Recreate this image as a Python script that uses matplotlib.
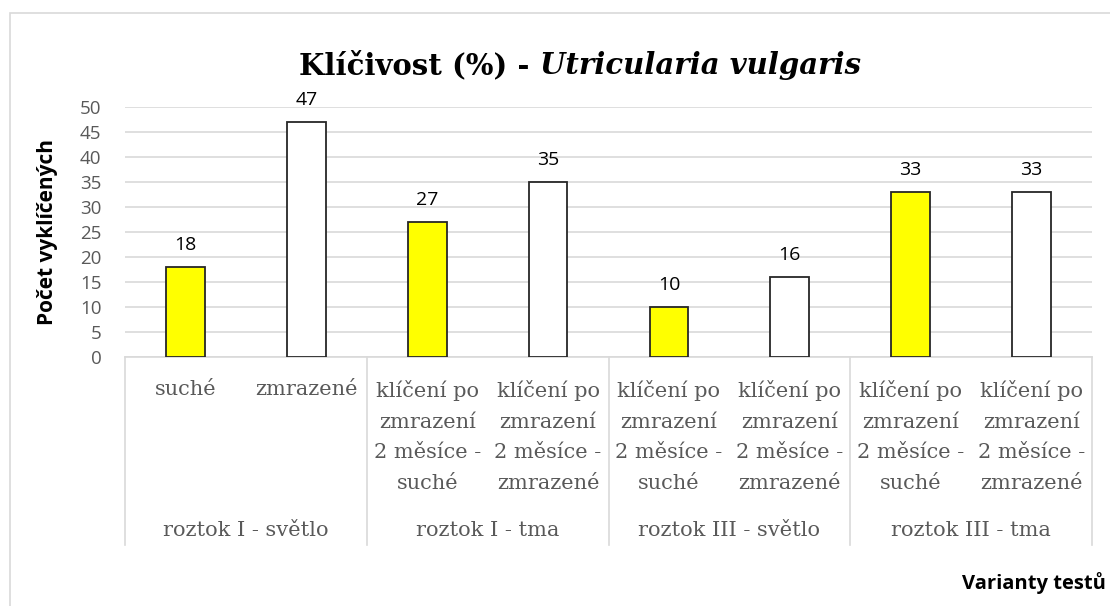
import matplotlib.pyplot as plt
from matplotlib.patches import Rectangle
import matplotlib.transforms as mtransforms


# data
groups = ['roztok I - světlo', 'roztok I - tma', 'roztok III - světlo', 'roztok III - tma']
categories = [
    'suché', 'zmrazené',
    'klíčení po\nzmrazení\n2 měsíce -\nsuché', 'klíčení po\nzmrazení\n2 měsíce -\nzmrazené',
    'klíčení po\nzmrazení\n2 měsíce -\nsuché', 'klíčení po\nzmrazení\n2 měsíce -\nzmrazené',
    'klíčení po\nzmrazení\n2 měsíce -\nsuché', 'klíčení po\nzmrazení\n2 měsíce -\nzmrazené',
]
values = [18, 47, 27, 35, 10, 16, 33, 33]
bar_colors = ['#ffff00', '#ffffff'] * 4

W, H = 1110, 606
fig = plt.figure(figsize=(W / 100, H / 100), dpi=100)

# outer chart frame
fig.patches.append(Rectangle((10 / W, -0.1), 1.2, (H - 13) / H + 0.1,
                             transform=fig.transFigure, fill=False,
                             edgecolor='#d9d9d9', lw=1.2))

x0, x1 = 125, 1092
y0, y1 = 357, 107
ax = fig.add_axes([x0 / W, (H - y0) / H, (x1 - x0) / W, (y0 - y1) / H])

x = list(range(len(values)))
ax.bar(x, values, width=0.32, color=bar_colors, edgecolor='#262626', lw=1.3, zorder=3)
for xi, v in zip(x, values):
    ax.text(xi, v + 2.7, str(v), ha='center', va='bottom', fontsize=14,
            family='Open Sans', color='black')

ax.set_xlim(-0.5, len(values) - 0.5)
ax.set_ylim(0, 50)
ax.set_yticks(range(0, 51, 5))
ax.set_xticks([])
ax.yaxis.grid(True, color='#d9d9d9', lw=1.2)
ax.set_axisbelow(True)
for s in ['top', 'right', 'left']:
    ax.spines[s].set_visible(False)
ax.spines['bottom'].set_color('#d9d9d9')
ax.spines['bottom'].set_linewidth(1.2)
ax.tick_params(axis='y', length=0, pad=17, labelsize=13.5, labelcolor='#595959')
for lbl in ax.get_yticklabels():
    lbl.set_family('Open Sans')

ax.set_ylabel('Počet vyklíčených', fontsize=15, fontweight='bold',
              family='Open Sans')
ax.yaxis.set_label_coords(-67 / (x1 - x0), 0.5)

# multi-level category axis
trans = mtransforms.blended_transform_factory(ax.transData, ax.transAxes)
px = 1 / (y0 - y1)
for xi, cat in zip(x, categories):
    ax.text(xi, -23 * px, cat, transform=trans, ha='center', va='top',
            fontsize=15, family='DejaVu Serif', color='#595959', linespacing=1.78)
for gi, g in enumerate(groups):
    ax.text(2 * gi + 0.5, -174 * px, g, transform=trans, ha='center', va='center',
            fontsize=15, family='DejaVu Serif', color='#595959')
for b in [-0.5, 1.5, 3.5, 5.5, 7.5]:
    ax.plot([b, b], [0, -188 * px], transform=trans, color='#d9d9d9', lw=1.2,
            clip_on=False)

# title: bold upright part + bold italic part
t1 = fig.text(0, 1 - 65 / H, 'Klíčivost (%) - ', fontsize=21, fontweight='bold',
              family='DejaVu Serif', va='center', ha='left')
t2 = fig.text(0, 1 - 65 / H, 'Utricularia vulgaris', fontsize=21, fontweight='bold',
              style='italic', family='DejaVu Serif', va='center', ha='left')
fig.canvas.draw()
r = fig.canvas.get_renderer()
w1 = t1.get_window_extent(r).width
w2 = t2.get_window_extent(r).width
start = 580 - (w1 + w2) / 2
t1.set_x(start / W)
t2.set_x((start + w1) / W)

fig.text(962 / W, 1 - 583 / H, 'Varianty testů', fontsize=14.5, fontweight='bold',
         family='Open Sans', ha='left', va='center')

fig.savefig('out.png', dpi=100)
